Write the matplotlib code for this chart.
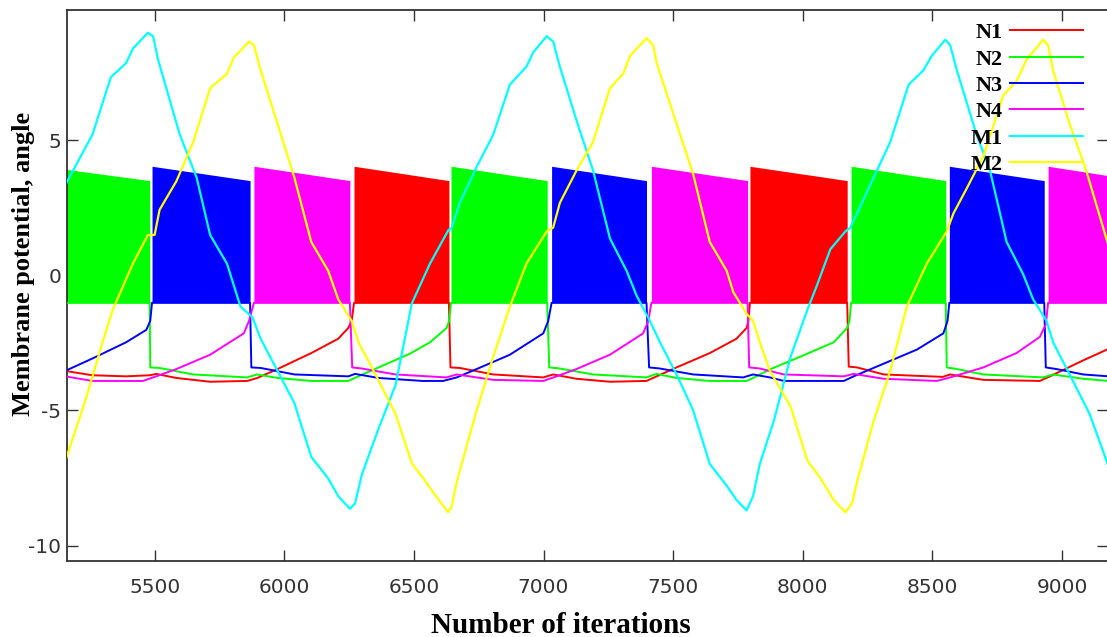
#!/usr/bin/env python3
from __future__ import annotations

import matplotlib

matplotlib.use("Agg")
import matplotlib.pyplot as plt


# Quiescent traces of the four neurons (burst edges sit on the spike floor).
N1_X = [5155, 5260, 5390, 5481, 5506, 5584, 5714, 5857, 5896, 5974, 6104, 6208,
        6247, 6260, 6269, 6635, 6641, 6677, 6806, 6999, 7037, 7127, 7256, 7397,
        7436, 7513, 7641, 7744, 7783, 7790, 7796, 8171, 8177, 8209, 8312, 8540,
        8568, 8696, 8914, 8953, 9081, 9180]
N1_Y = [-3.54, -3.70, -3.74, -3.70, -3.65, -3.80, -3.94, -3.91, -3.80, -3.47,
        -2.88, -2.35, -1.95, -1.69, -1.02, -1.02, -3.41, -3.43, -3.67, -3.78,
        -3.67, -3.83, -3.94, -3.91, -3.74, -3.41, -2.88, -2.35, -1.95, -1.69,
        -1.02, -1.02, -3.38, -3.41, -3.67, -3.76, -3.67, -3.87, -3.91, -3.74,
        -3.15, -2.72]

N2_X = [5155, 5481, 5483, 5519, 5649, 5857, 5896, 5974, 6104, 6247, 6286, 6364,
        6485, 6562, 6626, 6636, 6643, 7014, 7022, 7063, 7191, 7397, 7436, 7513,
        7641, 7783, 7808, 7876, 7991, 8119, 8171, 8180, 8186, 8551, 8555, 8594,
        8696, 8927, 8965, 9081, 9180]
N2_Y = [-1.02, -1.02, -3.41, -3.43, -3.67, -3.78, -3.67, -3.80, -3.91, -3.91,
        -3.74, -3.41, -2.90, -2.48, -1.95, -1.69, -1.02, -1.02, -3.41, -3.45,
        -3.67, -3.78, -3.65, -3.80, -3.91, -3.91, -3.80, -3.47, -3.01, -2.48,
        -1.95, -1.69, -1.02, -1.02, -3.41, -3.47, -3.67, -3.78, -3.67, -3.83,
        -3.91]

N3_X = [5155, 5260, 5390, 5468, 5483, 5490, 5868, 5873, 5909, 6039, 6247, 6273,
        6364, 6532, 6613, 6665, 6742, 6870, 6999, 7018, 7031, 7397, 7407, 7449,
        7577, 7770, 7808, 7873, 7927, 8158, 8196, 8312, 8440, 8542, 8558, 8565,
        8931, 8937, 8978, 9081, 9180]
N3_Y = [-3.54, -3.08, -2.48, -2.02, -1.69, -1.02, -1.02, -3.41, -3.43, -3.67,
        -3.74, -3.65, -3.80, -3.91, -3.91, -3.78, -3.47, -2.94, -2.15, -1.69,
        -1.02, -1.02, -3.41, -3.45, -3.67, -3.78, -3.67, -3.78, -3.91, -3.91,
        -3.74, -3.27, -2.75, -2.15, -1.69, -1.02, -1.02, -3.41, -3.47, -3.67,
        -3.74]

N4_X = [5155, 5260, 5455, 5506, 5584, 5714, 5844, 5864, 5883, 6253, 6262, 6299,
        6429, 6626, 6665, 6806, 6999, 7050, 7127, 7256, 7384, 7404, 7416, 7787,
        7793, 7834, 7927, 8158, 8196, 8312, 8517, 8568, 8696, 8824, 8914, 8937,
        8946, 9180]
N4_Y = [-3.74, -3.91, -3.91, -3.74, -3.47, -2.94, -2.15, -1.69, -1.02, -1.02,
        -3.41, -3.45, -3.67, -3.78, -3.67, -3.87, -3.91, -3.74, -3.47, -2.94,
        -2.15, -1.69, -1.02, -1.02, -3.41, -3.45, -3.67, -3.74, -3.65, -3.83,
        -3.91, -3.78, -3.41, -2.88, -2.28, -1.82, -1.02, -1.02]

# Bursts: start, end, spike top at start, spike top at end
N1_BURST_START = [6269, 7796]
N1_BURST_END = [6635, 8171]
N1_BURST_TOP0 = [4.03, 4.03]
N1_BURST_TOP1 = [3.50, 3.50]

N2_BURST_START = [5155, 6643, 8186]
N2_BURST_END = [5481, 7014, 8551]
N2_BURST_TOP0 = [3.92, 4.03, 4.03]
N2_BURST_TOP1 = [3.50, 3.50, 3.50]

N3_BURST_START = [5490, 7031, 8565]
N3_BURST_END = [5868, 7397, 8931]
N3_BURST_TOP0 = [4.03, 4.03, 4.03]
N3_BURST_TOP1 = [3.50, 3.50, 3.50]

N4_BURST_START = [5883, 7416, 8946]
N4_BURST_END = [6253, 7787, 9180]
N4_BURST_TOP0 = [4.03, 4.03, 4.03]
N4_BURST_TOP1 = [3.50, 3.50, 3.68]

SPIKE_FLOOR = -1.02

M1_X = [5156, 5260, 5331, 5390, 5416, 5474, 5494, 5513, 5597, 5662, 5714, 5779,
        5831, 5877, 5909, 5974, 6039, 6104, 6169, 6208, 6253, 6273, 6299, 6364,
        6429, 6492, 6562, 6633, 6646, 6677, 6742, 6806, 6870, 6934, 6960, 7012,
        7037, 7063, 7127, 7191, 7256, 7320, 7359, 7410, 7449, 7513, 7577, 7641,
        7706, 7744, 7783, 7808, 7834, 7888, 7953, 8017, 8055, 8106, 8164, 8183,
        8209, 8273, 8337, 8408, 8465, 8497, 8549, 8568, 8594, 8670, 8722, 8786,
        8850, 8888, 8940, 8965, 9029, 9106, 9180]
M1_Y = [3.35, 5.20, 7.32, 7.85, 8.38, 8.97, 8.84, 7.98, 5.20, 3.61, 1.49, 0.43,
        -1.16, -1.55, -2.35, -3.54, -4.73, -6.72, -7.51, -8.17, -8.64, -8.44,
        -7.38, -5.66, -4.07, -1.04, 0.43, 1.67, 1.76, 2.68, 4.01, 5.20, 7.05,
        7.71, 8.24, 8.84, 8.64, 7.71, 5.73, 3.87, 1.36, 0.17, -0.76, -1.69,
        -2.48, -3.67, -5.00, -6.98, -7.78, -8.31, -8.70, -8.17, -6.98, -5.39,
        -3.01, -1.29, -0.36, 0.96, 1.62, 1.76, 2.29, 3.61, 4.93, 7.05, 7.58,
        8.11, 8.71, 8.51, 7.58, 5.20, 3.87, 1.23, 0.03, -0.89, -1.69, -2.48,
        -3.67, -5.13, -7.10]

M2_X = [5156, 5234, 5299, 5338, 5416, 5474, 5500, 5519, 5584, 5649, 5714, 5779,
        5805, 5864, 5883, 5909, 5974, 6039, 6104, 6169, 6208, 6260, 6286, 6338,
        6429, 6493, 6536, 6575, 6632, 6645, 6665, 6742, 6806, 6870, 6934, 7012,
        7037, 7063, 7127, 7191, 7256, 7307, 7333, 7397, 7423, 7436, 7513, 7577,
        7641, 7706, 7732, 7783, 7808, 7834, 7873, 7953, 8017, 8068, 8119, 8164,
        8190, 8209, 8273, 8337, 8401, 8478, 8555, 8581, 8632, 8696, 8773, 8824,
        8863, 8927, 8946, 8965, 9029, 9093, 9180]
M2_Y = [-6.85, -4.60, -2.48, -1.29, 0.43, 1.49, 1.49, 2.42, 3.48, 4.93, 6.92,
        7.45, 8.05, 8.64, 8.51, 7.58, 5.60, 3.61, 1.23, 0.17, -0.89, -1.69,
        -2.48, -3.41, -5.13, -6.98, -7.51, -8.04, -8.77, -8.57, -7.64, -5.00,
        -3.01, -1.16, 0.43, 1.62, 1.76, 2.68, 3.87, 4.93, 6.92, 7.45, 8.11,
        8.77, 8.51, 7.85, 5.60, 3.74, 1.23, 0.17, -0.63, -1.42, -1.69, -2.48,
        -3.54, -4.86, -6.85, -7.51, -8.31, -8.77, -8.44, -7.64, -5.39, -3.54,
        -1.16, 0.43, 1.62, 2.29, 3.21, 4.40, 6.65, 7.18, 7.98, 8.71, 8.51, 7.58,
        5.60, 3.87, 1.05]

LABELS = ["N1", "N2", "N3", "N4", "M1", "M2"]
COLORS = ["#ff0000", "#00ff00", "#0000ff", "#ff00ff", "#00ffff", "#ffff00"]

X_TICKS = [5500, 6000, 6500, 7000, 7500, 8000, 8500, 9000]
Y_TICKS = [-10, -5, 0, 5]

AXIS_GRAY = "#333333"
SERIF = ["Liberation Serif", "DejaVu Serif"]


def _draw_bursts(ax, starts, ends, tops0, tops1, color) -> None:
    # spikes are so dense that each burst reads as a solid block
    for s, e, t0, t1 in zip(starts, ends, tops0, tops1):
        ax.fill_between([s, e], [SPIKE_FLOOR, SPIKE_FLOOR], [t0, t1],
                        color=color, linewidth=0, zorder=2)


def main() -> None:
    plt.rcParams["axes.unicode_minus"] = False

    fig = plt.figure(figsize=(11.07, 6.37), dpi=100)
    ax = fig.add_axes([67 / 1107, 76 / 637, 1040.5 / 1107, 551 / 637])

    neurons = [
        (N1_X, N1_Y, N1_BURST_START, N1_BURST_END, N1_BURST_TOP0, N1_BURST_TOP1),
        (N2_X, N2_Y, N2_BURST_START, N2_BURST_END, N2_BURST_TOP0, N2_BURST_TOP1),
        (N3_X, N3_Y, N3_BURST_START, N3_BURST_END, N3_BURST_TOP0, N3_BURST_TOP1),
        (N4_X, N4_Y, N4_BURST_START, N4_BURST_END, N4_BURST_TOP0, N4_BURST_TOP1),
    ]
    handles = []
    for i, (xs, ys, bs, be, t0, t1) in enumerate(neurons):
        _draw_bursts(ax, bs, be, t0, t1, COLORS[i])
        (ln,) = ax.plot(xs, ys, color=COLORS[i], lw=1.4, label=LABELS[i],
                        zorder=3)
        handles.append(ln)

    for i, (xs, ys) in enumerate([(M1_X, M1_Y), (M2_X, M2_Y)], start=4):
        (ln,) = ax.plot(xs, ys, color=COLORS[i], lw=1.6, label=LABELS[i],
                        zorder=4)
        handles.append(ln)

    ax.set_xlim(5162, 9175)
    ax.set_ylim(-10.57, 9.81)
    ax.set_xticks(X_TICKS)
    ax.set_yticks(Y_TICKS)

    for sp in ax.spines.values():
        sp.set_color(AXIS_GRAY)
        sp.set_linewidth(1.3)
    ax.tick_params(direction="in", length=8, width=1.0, color=AXIS_GRAY,
                   top=True, right=True, labelsize=14.5, labelcolor=AXIS_GRAY)
    ax.tick_params(axis="x", pad=12)
    ax.tick_params(axis="y", pad=4)

    ax.set_xlabel("Number of iterations", family=SERIF, weight="bold",
                  fontsize=21)
    ax.set_ylabel("Membrane potential, angle", family=SERIF, weight="bold",
                  fontsize=19)
    ax.xaxis.set_label_coords(0.475, -0.092)
    ax.yaxis.set_label_coords(-0.031, 0.539)

    ax.legend(handles=handles, loc="upper right",
              bbox_to_anchor=(0.9765, 0.977), frameon=False, markerfirst=False,
              prop={"family": SERIF, "weight": "bold", "size": 16},
              handlelength=3.3, handletextpad=0.32, labelspacing=0.26,
              borderaxespad=0, borderpad=0)

    fig.savefig("out.png", dpi=100)
    plt.close(fig)


if __name__ == "__main__":
    main()
